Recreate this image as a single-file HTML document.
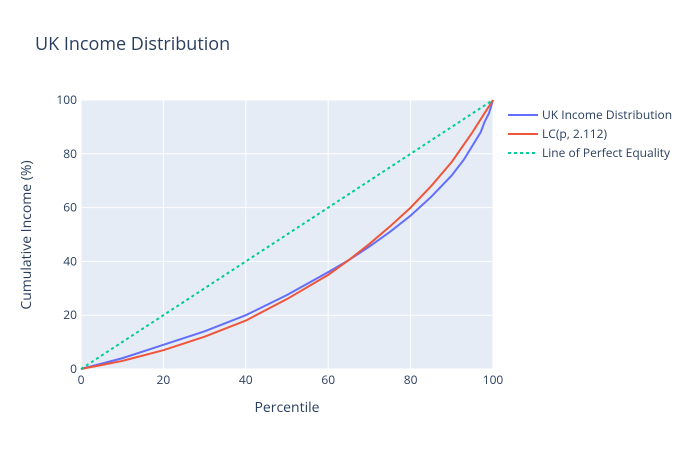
<!DOCTYPE html>
<html><head><meta charset="utf-8"><style>
body{margin:0;background:#fff;}
svg{font-family:"Open Sans","Liberation Sans","DejaVu Sans",sans-serif;}
</style></head><body>
<svg id="chart" width="700" height="450">
<rect x="0" y="0" width="700" height="450" fill="#fff"/>
<text x="35" y="50" font-size="18" fill="#2a3f5f">UK Income Distribution</text>
<rect x="81" y="100" width="412" height="269" fill="#e5ecf6"/>
<g id="grid"></g>
<g id="series"></g>
<g id="ticks"></g>
<text x="287" y="412" font-size="14" fill="#2a3f5f" text-anchor="middle">Percentile</text>
<text transform="translate(31,235) rotate(-90)" font-size="14" fill="#2a3f5f" text-anchor="middle">Cumulative Income (%)</text>
<g id="legend"></g>
</svg>
<script>
const xTicks=[0,20,40,60,80,100];
const yTicks=[0,20,40,60,80,100];
const ukX=[0,5,10,20,30,40,50,60,65,70,75,80,85,90,93,95,97,98,99,100];
const ukY=[0,2,4,9,14,20,27.5,36,40.5,45.5,51,57,64,72,78,83,88,92,95,100];
const lcX=[0,5,10,20,30,40,50,60,65,70,75,80,85,90,95,100];
const lcY=[0,1.5,3,7,12,18,26,35,40.5,46.5,53,60,68,77,88,100];
const eqX=[0,100];
const eqY=[0,100];
const names=["UK Income Distribution","LC(p, 2.112)","Line of Perfect Equality"];
const colors=["#636efa","#ef553b","#00cc96"];
const NS="http://www.w3.org/2000/svg";
const sx=v=>81+v*4.12, sy=v=>369-v*2.69;
const grid=document.getElementById('grid'),ticks=document.getElementById('ticks'),ser=document.getElementById('series'),leg=document.getElementById('legend');
function mk(t,a,p){const e=document.createElementNS(NS,t);for(const k in a)e.setAttribute(k,a[k]);p.appendChild(e);return e;}
xTicks.forEach(v=>{
 const l=mk('line',{x1:sx(v),x2:sx(v),y1:100,y2:369,stroke:'#fff','stroke-width':1},grid);
 
 
 const t=mk('text',{x:sx(v),y:384,'font-size':12,fill:'#2a3f5f','text-anchor':'middle'},ticks);t.textContent=v;
 
 
});
yTicks.forEach(v=>{
 const l=mk('line',{x1:81,x2:493,y1:sy(v),y2:sy(v),stroke:'#fff','stroke-width':1},grid);
 
 
 const t=mk('text',{x:77,y:sy(v)+4,'font-size':12,fill:'#2a3f5f','text-anchor':'end'},ticks);t.textContent=v;
 
 
});
const data=[[ukX,ukY],[lcX,lcY],[eqX,eqY]];
const lineNames=['uk-income-line','lc-curve-line','equality-line'];
data.forEach((d,i)=>{
 const pts=d[0].map((x,j)=>sx(x)+','+sy(d[1][j])).join(' ');
 const a={points:pts,fill:'none',stroke:colors[i],'stroke-width':2};
 if(i==2)a['stroke-dasharray']='3,3';
 const p=mk('polyline',a,ser);
 
 
 const y=115+i*19;
 const g=mk('g',{},leg);
 
 
 const la={x1:508,x2:538,y1:y,y2:y,stroke:colors[i],'stroke-width':2};
 if(i==2)la['stroke-dasharray']='3,3';
 mk('line',la,g);
 const t=mk('text',{x:542,y:y+4,'font-size':12,fill:'#2a3f5f'},g);t.textContent=names[i];
});
</script>
</body></html>
